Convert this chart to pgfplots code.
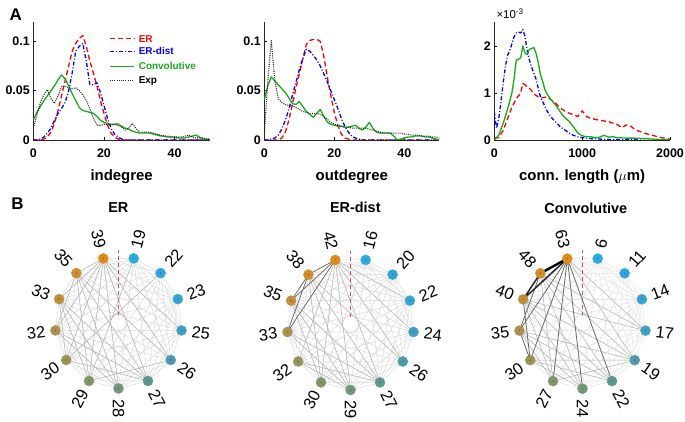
\documentclass[border=0pt]{standalone}
\usepackage{pgfplots}
\pgfplotsset{compat=1.18}
\usepackage{pgfplotstable}
\usepackage{fontspec}
\setmainfont{Liberation Sans}

\definecolor{cgreen}{RGB}{25,170,25}
\definecolor{dashred}{RGB}{232,70,80}

% node positions on the unit circle, clockwise from the top
\def\NX{{0.2393,0.6631,0.9350,0.9927,0.8230,0.4647,0,-0.4647,-0.8230,-0.9927,-0.9350,-0.6631,-0.2393}}
\def\NY{{0.9709,0.7485,0.3546,-0.1205,-0.5681,-0.8855,-1,-0.8855,-0.5681,-0.1205,0.3546,0.7485,0.9709}}

\pgfplotstableread{
k x y
0 0.2393 0.9709
1 0.6631 0.7485
2 0.9350 0.3546
3 0.9927 -0.1205
4 0.8230 -0.5681
5 0.4647 -0.8855
6 0 -1
7 -0.4647 -0.8855
8 -0.8230 -0.5681
9 -0.9927 -0.1205
10 -0.9350 0.3546
11 -0.6631 0.7485
12 -0.2393 0.9709
}\nodetab

% all pairs
\gdef\alledges{}
\foreach \a in {0,...,11}{%
  \pgfmathtruncatemacro\c{\a+1}%
  \foreach \b in {\c,...,12}{%
    \pgfmathsetmacro\xa{\NX[\a]}\pgfmathsetmacro\ya{\NY[\a]}%
    \pgfmathsetmacro\xb{\NX[\b]}\pgfmathsetmacro\yb{\NY[\b]}%
    \xdef\alledges{\alledges (\xa,\ya) (\xb,\yb) (nan,nan)}%
  }%
}
\newcommand\buildedges[2]{%
  \gdef#1{}%
  \foreach \a/\b in {#2}{%
    \pgfmathsetmacro\xa{\NX[\a]}\pgfmathsetmacro\ya{\NY[\a]}%
    \pgfmathsetmacro\xb{\NX[\b]}\pgfmathsetmacro\yb{\NY[\b]}%
    \xdef#1{#1 (\xa,\ya) (\xb,\yb) (nan,nan)}%
  }%
}
\buildedges\ermid{12/3,12/4,12/5,12/6,12/7,12/8,12/9,12/10,12/11,11/4,11/5,11/6,11/7,11/9,10/5,10/6,10/7,10/8,9/5,9/6,8/5,7/4,0/7,1/8}
\buildedges\edmid{12/2,12/3,12/4,12/5,12/6,12/7,12/8,11/4,11/5,11/6,11/7,10/5,10/6,10/7,9/5,9/6,8/5,8/6}
\buildedges\eddark{12/11,12/10,12/9,11/10,11/9}
\buildedges\cvmid{12/3,12/4,11/3,11/4,11/5,11/6,10/3,10/4,10/5,10/6,9/4,9/5,9/6,8/4,8/5,8/6,7/4,11/7,10/7,9/7}
\buildedges\cvdark{12/5,12/6,12/7,12/8,12/9,11/9,10/8,9/8}
\buildedges\cvblack{12/10,11/10}
\buildedges\cvthick{12/11}

\tikzset{
  nlab/.style={font=\fontsize{16.5}{18}\selectfont, inner sep=0pt},
  legtxt/.style={anchor=west, inner sep=0pt, font=\bfseries\fontsize{10}{11}\selectfont},
}

\newcommand\netlabels[1]{%
  \foreach \k/\lab in {#1}{%
    \pgfmathsetmacro\lx{1.16*\NX[\k]}%
    \pgfmathsetmacro\ly{1.16*\NY[\k]}%
    \pgfmathsetmacro\ang{76.154-27.692*\k}%
    \ifnum\k<7 \def\anc{west}\else\def\anc{east}\pgfmathsetmacro\ang{\ang+180}\fi
    \edef\tmp{\noexpand\node[nlab, rotate=\ang, anchor=\anc] at (axis cs:\lx,\ly) {\lab};}\tmp
  }%
}

\pgfplotsset{
  distax/.style={
    scale only axis, height=118.3bp,
    axis x line*=bottom, axis y line*=left,
    tick align=inside, major tick length=3bp,
    axis line style={line width=0.8bp, black!85},
    every tick/.style={black, line width=0.8bp},
    ticklabel style={font=\bfseries\fontsize{12.5}{14}\selectfont},
    x tick label style={yshift=-5bp},
    label style={font=\bfseries\fontsize{15}{17}\selectfont},
    xlabel style={at={(axis description cs:0.5,0)}, anchor=center, yshift=-37bp},
    /pgf/number format/assume math mode=true,
    scaled ticks=false, no markers, line join=round,
  },
  pER/.style={color=red, line width=1.3bp, dash pattern=on 5bp off 3bp},
  pERd/.style={color=blue, line width=1.3bp, dash pattern=on 4bp off 2bp on 1bp off 2bp},
  pConv/.style={color=cgreen, line width=1.3bp},
  pExp/.style={color=black!85, line width=1.1bp, dash pattern=on 1bp off 1.2bp},
  netax/.style={
    scale only axis, hide axis, width=203.2bp, height=211.2bp,
    xmin=-1.6, xmax=1.6, ymin=-1.6, ymax=1.6, clip=false,
    unbounded coords=jump, anchor=center,
    colormap={nodecm}{rgb255=(41,170,226) rgb255=(52,163,214) rgb255=(75,155,170) rgb255=(112,150,118) rgb255=(152,146,92) rgb255=(194,142,58) rgb255=(224,139,24)},
    point meta min=0, point meta max=12,
  },
}

\begin{document}
\begin{tikzpicture}[x=1bp,y=1bp]
\path[use as bounding box] (0,0) rectangle (685,421);

\node[font=\bfseries\fontsize{17}{18}\selectfont] at (15.8,406) {A};
\node[font=\bfseries\fontsize{17}{18}\selectfont] at (17.5,217) {B};

% ---------- indegree
\begin{axis}[distax, at={(33.3bp,281bp)}, anchor=south west, width=176.7bp,
  xmin=0, xmax=50, ymin=0, ymax=0.12,
  xtick={0,20,40}, xticklabels={0,20,40},
  ytick={0,0.05,0.1}, yticklabels={0,0.05,0.1},
  xlabel={indegree}]
\addplot[pER] coordinates {(0,0)(1,0)(2,0)(3,0.001)(4,0.003)(5,0.008)(6,0.017)(7,0.03)(8,0.045)(9,0.06)(10,0.075)(11,0.09)(12,0.098)(13,0.103)(14,0.106)(15,0.095)(16,0.08)(17,0.068)(18,0.055)(19,0.04)(20,0.027)(21,0.015)(22,0.007)(23,0.003)(24,0.001)(25,0)(30,0)(35,0)(40,0)(45,0)(50,0)};
\addplot[pERd] coordinates {(0,0)(1,0)(2,0.001)(3,0.003)(4,0.007)(5,0.012)(6,0.02)(7,0.027)(8,0.032)(9,0.038)(10,0.05)(11,0.068)(12,0.09)(13,0.095)(14,0.098)(15,0.08)(16,0.056)(17,0.056)(18,0.058)(19,0.048)(20,0.035)(21,0.022)(22,0.012)(23,0.006)(24,0.003)(25,0.001)(26,0)(30,0)(40,0)(50,0)};
\addplot[pConv] coordinates {(0,0.02)(1,0.028)(2,0.034)(3,0.04)(4,0.045)(5,0.05)(6,0.055)(7,0.061)(8,0.066)(9,0.062)(10,0.055)(11,0.047)(12,0.04)(13,0.033)(14,0.03)(15,0.029)(16,0.028)(17,0.027)(18,0.024)(19,0.02)(20,0.018)(21,0.017)(22,0.016)(23,0.016)(24,0.015)(25,0.014)(26,0.012)(27,0.011)(28,0.009)(29,0.008)(30,0.007)(31,0.007)(32,0.007)(33,0.007)(34,0.006)(35,0.005)(36,0.004)(37,0.004)(38,0.003)(39,0.003)(40,0.003)(41,0.002)(42,0.002)(43,0.002)(44,0.003)(45,0.004)(46,0.005)(47,0.003)(48,0.001)(49,0.001)(50,0)};
\addplot[pExp] coordinates {(0,0.012)(1,0.025)(2,0.038)(3,0.046)(4,0.051)(5,0.042)(6,0.037)(7,0.045)(8,0.054)(9,0.055)(10,0.053)(11,0.052)(12,0.053)(13,0.05)(14,0.046)(15,0.04)(16,0.032)(17,0.022)(18,0.015)(19,0.015)(20,0.016)(21,0.016)(22,0.015)(23,0.016)(24,0.017)(25,0.013)(26,0.01)(27,0.012)(28,0.017)(29,0.012)(30,0.008)(31,0.008)(32,0.008)(33,0.008)(34,0.007)(35,0.006)(36,0.005)(37,0.004)(38,0.004)(39,0.003)(40,0.003)(41,0.003)(42,0.003)(43,0.004)(44,0.005)(45,0.003)(46,0.002)(47,0.002)(48,0.002)(49,0.001)(50,0.001)};
% legend samples
\addplot[pER] coordinates {(21.7,0.1028)(28.5,0.1028)};
\addplot[pERd] coordinates {(21.7,0.0901)(28.5,0.0901)};
\addplot[pConv] coordinates {(21.7,0.0748)(28.5,0.0748)};
\addplot[pExp] coordinates {(21.7,0.0602)(28.5,0.0602)};
\node[legtxt, text=red] at (axis cs:29.8,0.1028) {ER};
\node[legtxt, text=blue] at (axis cs:29.8,0.0901) {ER-dist};
\node[legtxt, text=cgreen] at (axis cs:29.8,0.0748) {Convolutive};
\node[legtxt] at (axis cs:29.8,0.0602) {Exp};
\end{axis}

% ---------- outdegree
\begin{axis}[distax, at={(264.3bp,281bp)}, anchor=south west, width=175bp,
  xmin=0, xmax=50, ymin=0, ymax=0.12,
  xtick={0,20,40}, xticklabels={0,20,40},
  ytick={0,0.05,0.1}, yticklabels={0,0.05,0.1},
  xlabel={outdegree}]
\addplot[pER] coordinates {(0,0)(4,0)(5,0.002)(6,0.008)(7,0.02)(8,0.036)(9,0.052)(10,0.067)(11,0.082)(12,0.097)(13,0.101)(14,0.102)(15,0.102)(16,0.1)(17,0.085)(18,0.064)(19,0.045)(20,0.028)(21,0.015)(22,0.006)(23,0.002)(24,0.001)(25,0)(30,0)(40,0)(50,0)};
\addplot[pERd] coordinates {(0,0)(1,0)(2,0.001)(3,0.002)(4,0.005)(5,0.011)(6,0.02)(7,0.031)(8,0.045)(9,0.058)(10,0.071)(11,0.083)(12,0.092)(13,0.09)(14,0.086)(15,0.081)(16,0.075)(17,0.067)(18,0.059)(19,0.05)(20,0.041)(21,0.032)(22,0.022)(23,0.014)(24,0.008)(25,0.004)(26,0.002)(27,0.001)(28,0)(40,0)(50,0)};
\addplot[pConv] coordinates {(0,0.041)(1,0.055)(2,0.064)(3,0.06)(4,0.056)(5,0.052)(6,0.048)(7,0.043)(8,0.037)(9,0.036)(10,0.039)(11,0.034)(12,0.029)(13,0.026)(14,0.023)(15,0.027)(16,0.031)(17,0.024)(18,0.018)(19,0.016)(20,0.015)(21,0.014)(22,0.014)(23,0.013)(24,0.013)(25,0.014)(26,0.015)(27,0.012)(28,0.01)(29,0.013)(30,0.018)(31,0.012)(32,0.008)(33,0.007)(34,0.007)(35,0.007)(36,0.007)(37,0.004)(38,0)(39,0.001)(40,0.002)(41,0.003)(42,0.003)(43,0.004)(44,0.004)(45,0.004)(46,0.003)(47,0.003)(48,0.002)(49,0.001)(50,0)};
\addplot[pExp] coordinates {(0,0.005)(1,0.06)(2,0.101)(3,0.06)(4,0.042)(5,0.038)(6,0.036)(7,0.035)(8,0.035)(9,0.033)(10,0.031)(11,0.029)(12,0.028)(13,0.027)(14,0.027)(15,0.027)(16,0.026)(17,0.024)(18,0.021)(19,0.018)(20,0.016)(21,0.015)(22,0.014)(23,0.013)(24,0.013)(25,0.012)(26,0.012)(27,0.012)(28,0.012)(29,0.012)(30,0.011)(31,0.01)(32,0.009)(33,0.008)(34,0.007)(35,0.007)(36,0.007)(37,0.007)(38,0.007)(39,0.007)(40,0.006)(41,0.006)(42,0.005)(43,0.005)(44,0.005)(45,0.004)(46,0.004)(47,0.004)(48,0.003)(49,0.003)(50,0.002)};
\end{axis}

% ---------- connection length (values in units of 1e-3)
\begin{axis}[distax, name=axlen, at={(494.3bp,281bp)}, anchor=south west, width=175.7bp,
  xmin=0, xmax=2000, ymin=0, ymax=2.52,
  xtick={0,1000,2000}, xticklabels={0,1000,2000},
  ytick={0,1,2}, yticklabels={0,1,2},
  xlabel={conn. length (\mdseries$\mu$\bfseries m)}]
\addplot[pER] coordinates {(0,0.05)(50,0.05)(100,0.2)(150,0.45)(200,0.7)(250,0.88)(300,1.0)(325,1.2)(350,1.18)(375,1.12)(400,1.1)(425,1.05)(450,0.98)(475,0.95)(500,0.92)(550,0.9)(600,0.92)(650,0.85)(700,0.78)(750,0.68)(800,0.62)(850,0.57)(900,0.54)(950,0.5)(1000,0.62)(1050,0.5)(1100,0.46)(1200,0.42)(1300,0.39)(1400,0.33)(1450,0.26)(1500,0.32)(1550,0.3)(1600,0.22)(1700,0.15)(1800,0.1)(1900,0.05)(2000,0.02)};
\addplot[pERd] coordinates {(0,0.6)(25,0.25)(50,0.45)(75,0.8)(100,1.2)(125,1.55)(150,1.8)(175,1.9)(200,2.05)(225,2.2)(250,2.28)(275,2.3)(300,2.28)(325,2.35)(350,2.2)(375,1.9)(400,1.7)(425,1.55)(450,1.42)(475,1.3)(500,1.1)(525,0.92)(550,0.82)(575,0.72)(600,0.62)(650,0.48)(700,0.38)(750,0.28)(800,0.22)(850,0.15)(900,0.1)(950,0.07)(1000,0.05)(1050,0.04)(1100,0.03)(1200,0.02)(1300,0.01)(1500,0.005)(1700,0)};
\addplot[pConv] coordinates {(0,0)(50,0.1)(100,0.35)(150,0.65)(200,1.0)(225,1.3)(250,1.7)(275,1.72)(300,1.75)(325,2.0)(350,1.85)(375,1.82)(400,1.93)(425,1.95)(450,1.97)(475,1.85)(500,1.65)(525,1.4)(550,1.25)(575,1.08)(600,0.98)(650,0.85)(700,0.74)(750,0.6)(800,0.48)(850,0.4)(900,0.28)(950,0.15)(1000,0.09)(1050,0.07)(1100,0.07)(1150,0.05)(1200,0.06)(1250,0.1)(1300,0.06)(1350,0.07)(1400,0.05)(1500,0.04)(1600,0.04)(1700,0.03)(1800,0.02)(1900,0.01)(2000,0.01)};
\end{axis}
\node[anchor=south west, inner sep=0pt, font=\fontsize{11.5}{12}\selectfont] at ([xshift=2bp,yshift=2.5bp]axlen.north west) {×10\textsuperscript{-3}};

% ---------- networks
\node[font=\bfseries\fontsize{14.5}{16}\selectfont] at (118.3,213) {ER};
\node[font=\bfseries\fontsize{14.5}{16}\selectfont] at (355.3,214) {ER-dist};
\node[font=\bfseries\fontsize{14.5}{16}\selectfont] at (585.8,213) {Convolutive};

\begin{axis}[netax, at={(118.5bp,98.5bp)}]
\edef\tmp{\noexpand\addplot[gray!30, line width=0.45bp] coordinates {\alledges};}\tmp
\edef\tmp{\noexpand\addplot[gray!55, line width=0.5bp] coordinates {\ermid};}\tmp
\addplot[only marks, mark=*, white, mark size=7bp] coordinates {(0,0)};
\addplot[dashred, line width=1bp, dash pattern=on 4bp off 3bp] coordinates {(0,0)(0,1.1)};
\addplot[scatter, only marks, scatter src=explicit, mark=*, mark size=5bp,
  scatter/use mapped color={draw=mapped color, fill=mapped color}] table[x=x, y=y, meta=k] {\nodetab};
\addplot[only marks, mark=*, mark size=0.5bp, black!60] table[x=x, y=y] {\nodetab};
\netlabels{0/19,1/22,2/23,3/25,4/26,5/27,6/28,7/29,8/30,9/32,10/33,11/35,12/39}
\end{axis}

\begin{axis}[netax, at={(350.5bp,97bp)}]
\edef\tmp{\noexpand\addplot[gray!30, line width=0.45bp] coordinates {\alledges};}\tmp
\edef\tmp{\noexpand\addplot[gray!55, line width=0.5bp] coordinates {\edmid};}\tmp
\edef\tmp{\noexpand\addplot[black!60, line width=0.7bp] coordinates {\eddark};}\tmp
\addplot[only marks, mark=*, white, mark size=7bp] coordinates {(0,0)};
\addplot[dashred, line width=1bp, dash pattern=on 4bp off 3bp] coordinates {(0,0)(0,1.1)};
\addplot[scatter, only marks, scatter src=explicit, mark=*, mark size=5bp,
  scatter/use mapped color={draw=mapped color, fill=mapped color}] table[x=x, y=y, meta=k] {\nodetab};
\addplot[only marks, mark=*, mark size=0.5bp, black!60] table[x=x, y=y] {\nodetab};
\netlabels{0/16,1/20,2/22,3/24,4/26,5/27,6/29,7/30,8/32,9/33,10/35,11/38,12/42}
\end{axis}

\begin{axis}[netax, at={(582.5bp,98.3bp)}]
\edef\tmp{\noexpand\addplot[gray!22, line width=0.45bp] coordinates {\alledges};}\tmp
\edef\tmp{\noexpand\addplot[gray!55, line width=0.5bp] coordinates {\cvmid};}\tmp
\edef\tmp{\noexpand\addplot[black!60, line width=0.75bp] coordinates {\cvdark};}\tmp
\edef\tmp{\noexpand\addplot[black!85, line width=1.5bp] coordinates {\cvblack};}\tmp
\edef\tmp{\noexpand\addplot[black, line width=2.4bp] coordinates {\cvthick};}\tmp
\addplot[only marks, mark=*, white, mark size=7bp] coordinates {(0,0)};
\addplot[dashred, line width=1bp, dash pattern=on 4bp off 3bp] coordinates {(0,0)(0,1.1)};
\addplot[scatter, only marks, scatter src=explicit, mark=*, mark size=5bp,
  scatter/use mapped color={draw=mapped color, fill=mapped color}] table[x=x, y=y, meta=k] {\nodetab};
\addplot[only marks, mark=*, mark size=0.5bp, black!60] table[x=x, y=y] {\nodetab};
\netlabels{0/6,1/11,2/14,3/17,4/19,5/22,6/24,7/27,8/30,9/35,10/40,11/48,12/63}
\end{axis}
\end{tikzpicture}
\end{document}
